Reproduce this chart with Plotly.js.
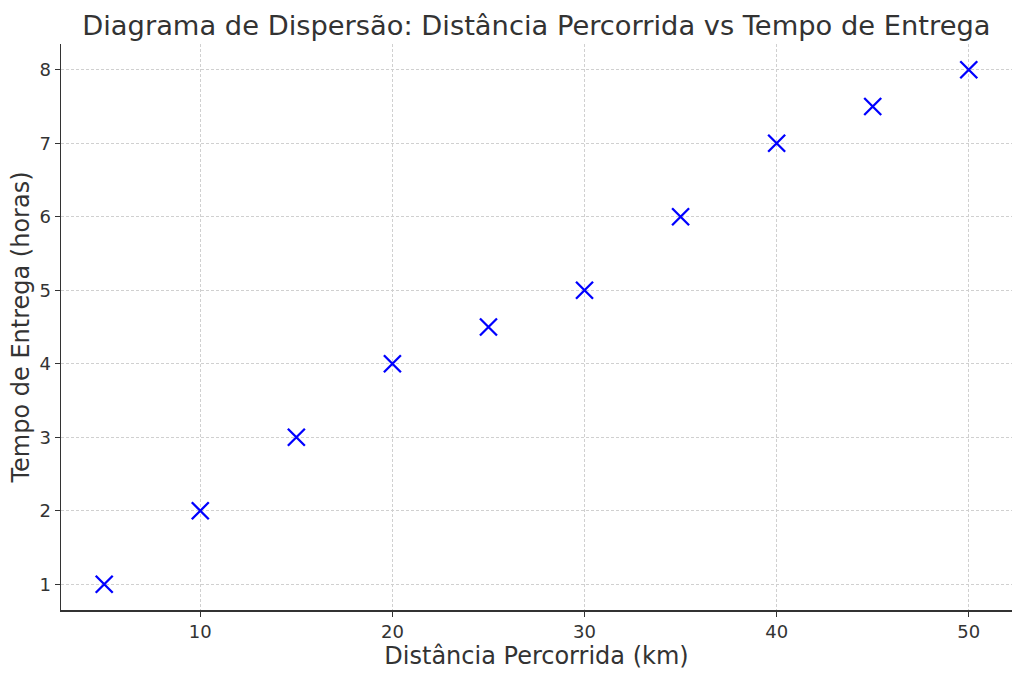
<!DOCTYPE html>
<html><head><meta charset="utf-8">
<script src="https://cdn.plot.ly/plotly-3.0.1.min.js"></script>
<style>html,body{margin:0;padding:0;background:#fff}#chart{width:1024px;height:679px}</style>
</head><body><div id="chart"></div>
<script>
const distancia = [5, 10, 15, 20, 25, 30, 35, 40, 45, 50];
const tempo = [1, 2, 3, 4, 4.5, 5, 6, 7, 7.5, 8];
const xTicks = [10, 20, 30, 40, 50];
const yTicks = [1, 2, 3, 4, 5, 6, 7, 8];

const font = 'DejaVu Sans, sans-serif';
const trace = {
  x: distancia, y: tempo, type: 'scatter', mode: 'markers',
  marker: {symbol: 'x-thin', size: 17, color: 'blue', line: {color: 'blue', width: 2.3}},
  hoverinfo: 'none'
};
const layout = {
  width: 1024, height: 679,
  margin: {l: 61, r: 12, t: 44, b: 69},
  paper_bgcolor: '#fff', plot_bgcolor: '#fff',
  font: {family: font, color: '#333'},
  title: {text: 'Diagrama de Dispersão: Distância Percorrida vs Tempo de Entrega',
    font: {family: font, size: 27.3, color: '#333'}, x: 0.5238, xanchor: 'center', y: 0.963, yanchor: 'middle'},
  xaxis: {
    range: [2.75, 52.25], tickvals: xTicks, ticktext: xTicks.map(String),
    ticks: 'outside', ticklen: 5, tickwidth: 1.2, tickcolor: '#333',
    showline: true, linecolor: '#333', linewidth: 1.5, mirror: false,
    showgrid: true, gridcolor: '#d0d0d0', griddash: '3px,2px', gridwidth: 1,
    zeroline: false, tickfont: {family: font, size: 18, color: '#333'},
    title: {text: 'Distância Percorrida (km)', font: {family: font, size: 24, color: '#333'}, standoff: 5}
  },
  yaxis: {
    range: [0.65, 8.35], tickvals: yTicks, ticktext: yTicks.map(String),
    ticks: 'outside', ticklen: 5, tickwidth: 1.2, tickcolor: '#333',
    showline: true, linecolor: '#333', linewidth: 1.5, mirror: false,
    showgrid: true, gridcolor: '#d0d0d0', griddash: '3px,2px', gridwidth: 1,
    zeroline: false, tickfont: {family: font, size: 18, color: '#333'},
    title: {text: 'Tempo de Entrega (horas)', font: {family: font, size: 24, color: '#333'}, standoff: 3}
  },
  showlegend: false
};
Plotly.newPlot('chart', [trace], layout, {displayModeBar: false, staticPlot: true});
</script></body></html>
